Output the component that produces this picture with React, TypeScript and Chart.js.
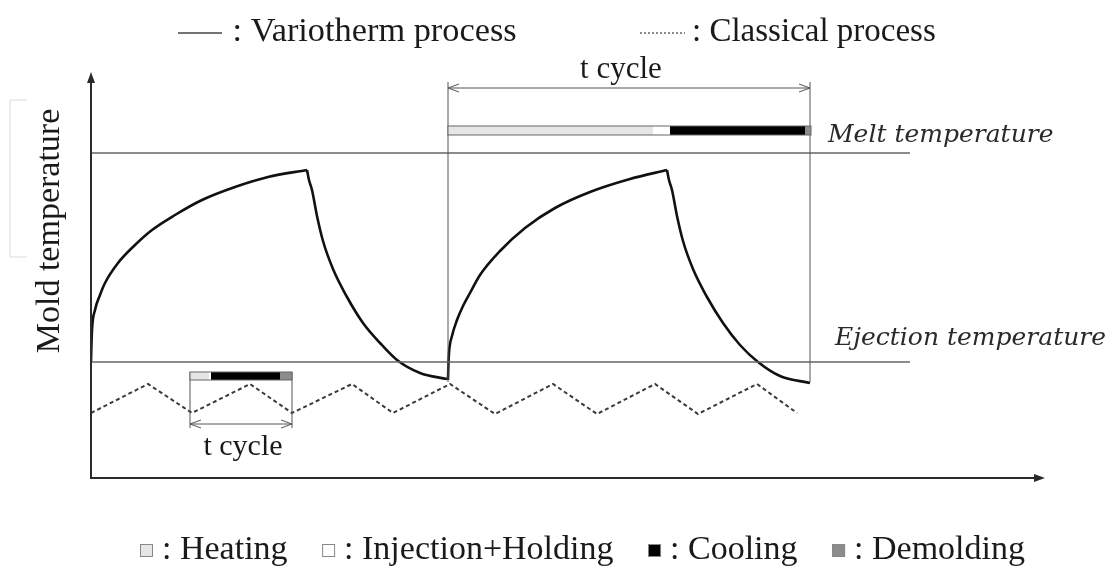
import React, { useEffect, useRef } from "react";
import { Chart, registerables } from "chart.js";

Chart.register(...registerables);

// ---- Schematic data (arbitrary units: time from y-axis, temperature from x-axis) ----
const MELT_TEMP = 325;
const EJECT_TEMP = 116;
const REF_LINE_END = 819;
const AXIS_TIME_MAX = 954;
const AXIS_TEMP_MAX = 406;

const heat1Time = [0, 0.3, 1, 4, 9, 14, 27, 44, 61, 84, 111, 144, 177, 216];
const heat1Temp = [116, 128, 148, 168, 183, 195, 215, 233, 248, 263, 278, 291, 301, 308];
const cool1Time = [216, 218, 221, 226, 232, 242, 256, 272, 289, 306, 329, 356];
const cool1Temp = [308, 298, 288, 262, 237, 209, 181, 155, 135, 118, 105, 99];
const heat2Time = [357, 357.3, 358, 361, 366, 372, 379, 389, 409, 434, 464, 499, 539, 576];
const heat2Temp = [98, 110, 125, 142, 158, 172, 185, 203, 227, 250, 270, 286, 299, 308];
const cool2Time = [576, 578, 581, 586, 592, 602, 616, 632, 649, 667, 689, 719];
const cool2Temp = [308, 298, 288, 262, 237, 209, 181, 155, 133, 116, 102, 95];

const classicalTime = [0, 57, 101, 159, 201, 261, 302, 359, 404, 462, 506, 564, 607, 666, 706];
const classicalTemp = [65, 94, 65, 94, 65, 94, 65, 94, 64, 94, 64, 94, 64, 94, 65];

const phaseNames = ["Heating", "Injection+Holding", "Cooling", "Demolding"];
const phaseColors = ["#e6e6e6", "#ffffff", "#000000", "#8c8c8c"];
const variothermPhaseBounds = [357, 562, 579, 714, 720];
const variothermBarTemps = [343, 352];
const classicalPhaseBounds = [99, 118, 120, 189, 201];
const classicalBarTemps = [98, 106];

// cycle dimension markers: [start, end, lineLow, lineHigh, arrowTemp, labelTemp]
const variothermCycle = [357, 719, 96, 396, 390, 408];
const classicalCycle = [99, 201, 106, 50, 54, 31];

const SERIF = "'Liberation Serif', 'Times New Roman', serif";

const toXY = (t: number[], v: number[]) => t.map((x, i) => ({ x, y: v[i] }));

function openArrow(ctx: CanvasRenderingContext2D, x: number, y: number, dir: number) {
  const len = 11, hw = 4;
  ctx.beginPath();
  ctx.moveTo(x - dir * len, y - hw);
  ctx.lineTo(x, y);
  ctx.lineTo(x - dir * len, y + hw);
  ctx.stroke();
}

const overlay = {
  id: "overlay",
  afterDraw(chart: any) {
    const ctx: CanvasRenderingContext2D = chart.ctx;
    const xs = chart.scales.x;
    const ys = chart.scales.y;
    const px = (t: number) => xs.getPixelForValue(t);
    const py = (v: number) => ys.getPixelForValue(v);
    ctx.save();

    // axes with arrows
    ctx.strokeStyle = "#2a2a2a";
    ctx.fillStyle = "#2a2a2a";
    ctx.lineWidth = 2;
    ctx.beginPath();
    ctx.moveTo(px(0), py(AXIS_TEMP_MAX) + 6);
    ctx.lineTo(px(0), py(0));
    ctx.lineTo(px(AXIS_TIME_MAX) - 6, py(0));
    ctx.stroke();
    ctx.beginPath();
    ctx.moveTo(px(0), py(AXIS_TEMP_MAX));
    ctx.lineTo(px(0) - 4, py(AXIS_TEMP_MAX) + 11);
    ctx.lineTo(px(0) + 4, py(AXIS_TEMP_MAX) + 11);
    ctx.closePath();
    ctx.fill();
    ctx.beginPath();
    ctx.moveTo(px(AXIS_TIME_MAX), py(0));
    ctx.lineTo(px(AXIS_TIME_MAX) - 11, py(0) - 4);
    ctx.lineTo(px(AXIS_TIME_MAX) - 11, py(0) + 4);
    ctx.closePath();
    ctx.fill();

    // cycle dimension markers
    const drawCycle = (c: number[], size: number, labelShift: number) => {
      const [a, b, lo, hi, arr, lab] = c;
      ctx.strokeStyle = "#555";
      ctx.lineWidth = 1;
      ctx.beginPath();
      ctx.moveTo(px(a), py(lo));
      ctx.lineTo(px(a), py(hi));
      ctx.moveTo(px(b), py(lo));
      ctx.lineTo(px(b), py(hi));
      ctx.moveTo(px(a), py(arr));
      ctx.lineTo(px(b), py(arr));
      ctx.stroke();
      openArrow(ctx, px(a), py(arr), -1);
      openArrow(ctx, px(b), py(arr), 1);
      ctx.fillStyle = "#1a1a1a";
      ctx.font = `${size}px ${SERIF}`;
      ctx.textAlign = "center";
      ctx.textBaseline = "middle";
      ctx.fillText("t cycle", (px(a) + px(b)) / 2 + labelShift, py(lab));
    };
    drawCycle(variothermCycle, 31, -8);
    drawCycle(classicalCycle, 30, 2);

    // phase bars
    const drawBar = (bounds: number[], temps: number[]) => {
      const y0 = py(temps[1]);
      const h = py(temps[0]) - y0;
      for (let i = 0; i < 4; i++) {
        const x0 = px(bounds[i]);
        const x1 = px(bounds[i + 1]);
        ctx.fillStyle = phaseColors[i];
        ctx.fillRect(x0, y0, x1 - x0, h);
      }
      ctx.strokeStyle = "#666";
      ctx.lineWidth = 1;
      ctx.strokeRect(px(bounds[0]), y0, px(bounds[4]) - px(bounds[0]), h);
    };
    drawBar(variothermPhaseBounds, variothermBarTemps);
    drawBar(classicalPhaseBounds, classicalBarTemps);

    // reference line labels
    ctx.fillStyle = "#2a2a2a";
    ctx.font = `italic 25px 'DejaVu Serif', serif`;
    ctx.textAlign = "left";
    ctx.textBaseline = "alphabetic";
    ctx.fillText("Melt temperature", px(737), py(MELT_TEMP + 11));
    ctx.fillText("Ejection temperature", px(744), py(EJECT_TEMP + 17));

    // axis title
    ctx.save();
    ctx.translate(50, 231);
    ctx.rotate(-Math.PI / 2);
    ctx.fillStyle = "#1a1a1a";
    ctx.font = `34px ${SERIF}`;
    ctx.textAlign = "center";
    ctx.textBaseline = "middle";
    ctx.fillText("Mold temperature", 0, 0);
    ctx.restore();

    // faint bracket artifact
    ctx.strokeStyle = "#dcdcdc";
    ctx.lineWidth = 1;
    ctx.beginPath();
    ctx.moveTo(27, 100);
    ctx.lineTo(10, 100);
    ctx.lineTo(10, 257);
    ctx.lineTo(27, 257);
    ctx.stroke();

    // top legend
    ctx.font = `33px ${SERIF}`;
    ctx.fillStyle = "#1a1a1a";
    ctx.textAlign = "left";
    ctx.textBaseline = "middle";
    ctx.strokeStyle = "#444";
    ctx.lineWidth = 1.5;
    ctx.beginPath();
    ctx.moveTo(178, 33);
    ctx.lineTo(222, 33);
    ctx.stroke();
    ctx.save();
    ctx.translate(224, 32);
    ctx.scale(1.04, 1);
    ctx.fillText(" : Variotherm process", 0, 0);
    ctx.restore();
    ctx.setLineDash([2, 2]);
    ctx.strokeStyle = "#666";
    ctx.beginPath();
    ctx.moveTo(640, 33);
    ctx.lineTo(685, 33);
    ctx.stroke();
    ctx.setLineDash([]);
    ctx.fillText(": Classical process", 692, 32);

    // bottom phase legend (sequential layout spanning 140..1025)
    ctx.font = `34px ${SERIF}`;
    const labels = phaseNames.map((n) => ": " + n);
    const widths = labels.map((l) => ctx.measureText(l).width);
    const startX = 140, endX = 1025, sq = 13, inner = 9;
    const used = widths.reduce((a, b) => a + b, 0) + 4 * (sq + inner);
    const gap = Math.max(12, (endX - startX - used) / 3);
    let x = startX;
    for (let i = 0; i < 4; i++) {
      ctx.fillStyle = phaseColors[i];
      ctx.fillRect(x, 544, sq, sq);
      ctx.strokeStyle = "#888";
      ctx.lineWidth = 1;
      ctx.strokeRect(x + 0.5, 544.5, sq - 1, sq - 1);
      ctx.fillStyle = "#1a1a1a";
      ctx.fillText(labels[i], x + sq + inner, 550);
      x += sq + inner + widths[i] + gap;
    }

    ctx.restore();
  },
};

export default function App() {
  const ref = useRef<HTMLCanvasElement | null>(null);
  useEffect(() => {
    if (!ref.current) return;
    const seg = (t: number[], v: number[]) => ({
      data: toXY(t, v),
      borderColor: "#111",
      borderWidth: 2.6,
      pointRadius: 0,
      cubicInterpolationMode: "monotone" as const,
      fill: false,
    });
    const chart = new Chart(ref.current, {
      type: "line",
      data: {
        datasets: [
          {
            data: toXY([0, REF_LINE_END], [MELT_TEMP, MELT_TEMP]),
            borderColor: "#666",
            borderWidth: 1.5,
            pointRadius: 0,
          },
          {
            data: toXY([0, REF_LINE_END], [EJECT_TEMP, EJECT_TEMP]),
            borderColor: "#666",
            borderWidth: 1.5,
            pointRadius: 0,
          },
          {
            data: toXY(classicalTime, classicalTemp),
            borderColor: "#3a3a3a",
            borderWidth: 2,
            borderDash: [4, 3],
            pointRadius: 0,
            tension: 0,
          },
          seg(heat1Time, heat1Temp),
          seg(cool1Time, cool1Temp),
          seg(heat2Time, heat2Temp),
          seg(cool2Time, cool2Temp),
        ],
      },
      options: {
        animation: false,
        responsive: false,
        maintainAspectRatio: false,
        layout: { padding: { left: 91, right: 75, top: 75, bottom: 89 } },
        scales: {
          x: { type: "linear", min: 0, max: AXIS_TIME_MAX, display: false },
          y: { type: "linear", min: 0, max: 403, display: false },
        },
        plugins: {
          legend: { display: false },
          tooltip: { enabled: false },
          title: { display: false },
        },
        events: [],
      },
      plugins: [overlay],
    });
    return () => chart.destroy();
  }, []);
  return (
    <div style={{ position: "fixed", left: 0, top: 0, width: 1120, height: 567, background: "#fff" }}>
      <canvas ref={ref} width={1120} height={567} style={{ width: 1120, height: 567, display: "block" }} />
    </div>
  );
}
